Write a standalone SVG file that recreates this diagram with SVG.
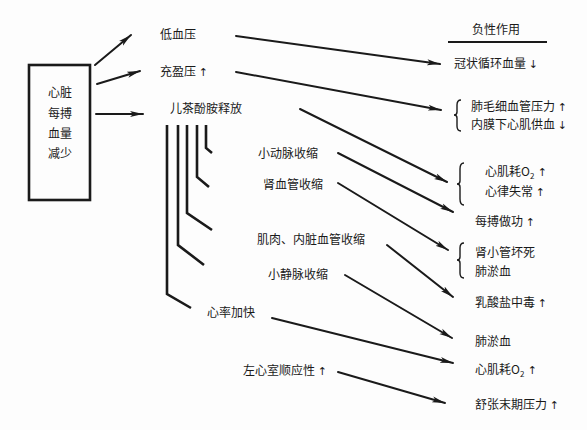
<svg xmlns="http://www.w3.org/2000/svg" width="587" height="430" viewBox="0 0 587 430">
<style>
text{font-family:"Noto Sans CJK SC","Noto Sans",sans-serif;font-size:12px;fill:#1a1a1a}
.a{font-family:"DejaVu Sans","Liberation Sans",sans-serif;font-size:11px;fill:#1a1a1a}
.ln{stroke:#1a1a1a;stroke-width:2;fill:none;stroke-linecap:round}
.th{stroke:#1a1a1a;stroke-width:2.6;fill:none;stroke-linejoin:miter}
.br{stroke:#1a1a1a;stroke-width:1.4;fill:none}
.sub{font-size:8px}
</style>
<defs>
<marker id="ah" markerUnits="userSpaceOnUse" markerWidth="14" markerHeight="8" refX="13" refY="4" orient="auto">
<path d="M0,1 L13,4 L0,7 L3,4 z" fill="#1a1a1a"/>
</marker>
</defs>
<rect width="587" height="430" fill="#fdfdfd"/>

<g id="source">
<rect x="29" y="65" width="61" height="135" fill="none" stroke="#1a1a1a" stroke-width="2.6"/>
<text x="60" y="97" text-anchor="middle">心脏</text>
<text x="60" y="118" text-anchor="middle">每搏</text>
<text x="60" y="138" text-anchor="middle">血量</text>
<text x="60" y="158" text-anchor="middle">减少</text>
</g>

<g id="n-lowbp"><text x="160" y="39">低血压</text></g>
<g id="n-fill"><text x="160" y="76">充盈压 <tspan class="a">↑</tspan></text></g>
<g id="n-cat"><text x="170" y="113">儿茶酚胺释放</text></g>
<g id="n-art"><text x="258" y="158">小动脉收缩</text></g>
<g id="n-renal"><text x="263" y="189">肾血管收缩</text></g>
<g id="n-muscle"><text x="257" y="244">肌肉、内脏血管收缩</text></g>
<g id="n-vein"><text x="268" y="279">小静脉收缩</text></g>
<g id="n-hr"><text x="207" y="317">心率加快</text></g>
<g id="n-lv"><text x="243" y="375">左心室顺应性 <tspan class="a">↑</tspan></text></g>

<g id="header">
<text x="472" y="34">负性作用</text>
<line x1="448" y1="42" x2="547" y2="42" stroke="#1a1a1a" stroke-width="2"/>
</g>
<g id="r-coronary"><text x="454" y="68">冠状循环血量 <tspan class="a">↓</tspan></text></g>
<g id="r-pulm">
<path class="br" d="M461,100 Q457,100 457,105 L457,112 Q457,115 454,115 Q457,115 457,118 L457,126 Q457,131 461,131"/>
<text x="471" y="111">肺毛细血管压力 <tspan class="a">↑</tspan></text>
<text x="471" y="129">内膜下心肌供血 <tspan class="a">↓</tspan></text>
</g>
<g id="r-o2a">
<path class="br" d="M464,163 Q460,163 460,169 L460,181 Q460,184 457,184 Q460,184 460,187 L460,199 Q460,205 464,205"/>
<text x="485" y="176">心肌耗O<tspan class="sub" dy="3">2</tspan><tspan class="a" dy="-3"> ↑</tspan></text>
<text x="485" y="196">心律失常 <tspan class="a">↑</tspan></text>
</g>
<g id="r-work"><text x="475" y="226">每搏做功 <tspan class="a">↑</tspan></text></g>
<g id="r-renal">
<path class="br" d="M464,243 Q460,243 460,248 L460,257 Q460,260 457,260 Q460,260 460,263 L460,273 Q460,278 464,278"/>
<text x="475" y="257">肾小管坏死</text>
<text x="475" y="276">肺淤血</text>
</g>
<g id="r-lactate"><text x="475" y="307">乳酸盐中毒 <tspan class="a">↑</tspan></text></g>
<g id="r-congest"><text x="475" y="346">肺淤血</text></g>
<g id="r-o2b"><text x="475" y="374">心肌耗O<tspan class="sub" dy="3">2</tspan><tspan class="a" dy="-3"> ↑</tspan></text></g>
<g id="r-edp"><text x="475" y="409">舒张末期压力 <tspan class="a">↑</tspan></text></g>

<g id="connectors">
<line class="ln" x1="95" y1="65" x2="131" y2="35" marker-end="url(#ah)"/>
<line class="ln" x1="97" y1="84" x2="140" y2="71" marker-end="url(#ah)"/>
<line class="ln" x1="96" y1="114" x2="143" y2="114" marker-end="url(#ah)"/>
<line class="ln" x1="236" y1="36" x2="440" y2="64" marker-end="url(#ah)"/>
<line class="ln" x1="236" y1="72" x2="441" y2="110" marker-end="url(#ah)"/>
<line class="ln" x1="300" y1="109" x2="447" y2="182" marker-end="url(#ah)"/>
<line class="ln" x1="338" y1="153" x2="453" y2="212" marker-end="url(#ah)"/>
<line class="ln" x1="338" y1="183" x2="448" y2="250" marker-end="url(#ah)"/>
<line class="ln" x1="387" y1="245" x2="453" y2="297" marker-end="url(#ah)"/>
<line class="ln" x1="345" y1="275" x2="452" y2="338" marker-end="url(#ah)"/>
<line class="ln" x1="272" y1="318" x2="453" y2="363" marker-end="url(#ah)"/>
<line class="ln" x1="338" y1="372" x2="445" y2="403" marker-end="url(#ah)"/>
<polyline class="th" points="206,125 206,148 212,153"/>
<polyline class="th" points="197,125 197,177 209,187"/>
<polyline class="th" points="187,125 187,213 212,230"/>
<polyline class="th" points="178,125 178,245 204,265"/>
<polyline class="th" points="167,125 167,294 191,308"/>
</g>
</svg>
